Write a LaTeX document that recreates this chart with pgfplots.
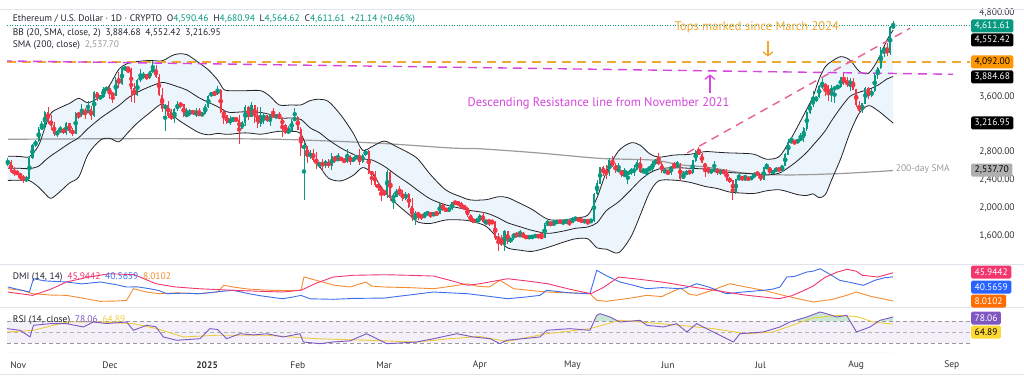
\documentclass[border=0pt]{standalone}
\usepackage{pgfplots}
\pgfplotsset{compat=1.18}
\usepackage{pgfplotstable}
\usetikzlibrary{arrows.meta}
\usepackage{fontspec}
\setmainfont{PT Sans}

\definecolor{tvgreen}{RGB}{8,153,129}
\definecolor{tvred}{RGB}{242,54,69}
\definecolor{bbline}{RGB}{35,35,40}
\definecolor{bbfill}{RGB}{236,244,252}
\definecolor{smagray}{RGB}{155,155,155}
\definecolor{toporange}{RGB}{240,168,48}
\definecolor{resmag}{RGB}{214,70,222}
\definecolor{ascpink}{RGB}{232,96,146}
\definecolor{adxred}{RGB}{242,54,110}
\definecolor{diblue}{RGB}{60,110,240}
\definecolor{diorange}{RGB}{245,140,50}
\definecolor{rsipurple}{RGB}{126,87,194}
\definecolor{rsiyellow}{RGB}{238,205,60}
\definecolor{lav}{RGB}{243,240,250}
\definecolor{obgreen}{RGB}{200,232,214}
\definecolor{txt}{RGB}{35,38,48}
\definecolor{tickcol}{RGB}{50,50,55}
\definecolor{sep}{RGB}{224,227,235}
\definecolor{tagorange}{RGB}{255,152,0}
\definecolor{taggray}{RGB}{175,175,175}
\definecolor{tagblue}{RGB}{41,98,255}
\definecolor{tagdiorange}{RGB}{255,109,0}
\definecolor{tagyellow}{RGB}{253,216,53}

\pgfplotstableread{
d o h l c
-2 2638 2722 2600 2659
-1 2659 2690 2500 2518
0 2518 2585 2460 2512
1 2512 2540 2475 2490
2 2490 2495 2400 2458
3 2458 2480 2360 2398
4 2398 2460 2380 2421
5 2421 2740 2420 2720
6 2720 2915 2700 2895
7 2895 2970 2880 2961
8 2961 3160 2950 3125
9 3125 3250 3120 3184
10 3184 3390 3130 3370
11 3370 3445 3210 3245
12 3245 3330 3120 3187
13 3187 3240 3030 3059
14 3059 3120 3020 3092
15 3092 3180 3080 3133
16 3133 3145 3060 3077
17 3077 3230 3050 3208
18 3208 3220 3080 3107
19 3107 3150 3030 3071
20 3071 3380 3060 3356
21 3356 3375 3270 3333
22 3333 3490 3300 3397
23 3397 3440 3280 3362
24 3362 3540 3360 3415
25 3415 3460 3260 3326
26 3326 3680 3300 3654
27 3654 3660 3540 3582
28 3582 3620 3550 3594
29 3594 3730 3580 3705
30 3705 3740 3680 3710
31 3710 3755 3560 3640
32 3640 3660 3500 3615
33 3615 3885 3600 3838
34 3838 3950 3720 3785
35 3785 4015 3770 4002
36 4002 4030 3970 4004
37 4004 4010 3930 3995
38 3995 4010 3520 3710
39 3710 3790 3510 3628
40 3628 3845 3600 3835
41 3835 3990 3810 3880
42 3880 3950 3850 3908
43 3908 3920 3830 3872
44 3872 3970 3850 3960
45 3960 4107 3930 3987
46 3987 4050 3860 3880
47 3880 3915 3600 3623
48 3623 3720 3370 3420
49 3420 3490 3100 3478
50 3478 3530 3290 3330
51 3330 3420 3260 3282
52 3282 3430 3220 3420
53 3420 3530 3390 3490
54 3490 3520 3430 3481
55 3481 3490 3310 3330
56 3330 3440 3310 3333
57 3333 3420 3320 3400
58 3400 3410 3340 3350
59 3350 3430 3310 3360
60 3360 3430 3320 3333
61 3333 3365 3320 3353
62 3353 3490 3350 3452
63 3452 3620 3440 3605
64 3605 3670 3590 3658
65 3658 3660 3610 3636
66 3636 3745 3620 3685
67 3685 3700 3360 3382
68 3382 3415 3210 3327
69 3327 3340 3200 3220
70 3220 3320 3190 3268
71 3268 3300 3230 3283
72 3283 3300 3230 3265
73 3265 3330 2920 3138
74 3138 3250 3130 3228
75 3228 3470 3180 3450
76 3450 3460 3260 3308
77 3308 3520 3300 3475
78 3475 3480 3220 3305
79 3305 3450 3150 3214
80 3214 3450 3160 3280
81 3280 3360 3200 3330
82 3330 3340 3230 3245
83 3245 3350 3180 3340
84 3340 3430 3300 3310
85 3310 3350 3280 3320
86 3320 3370 3280 3290
87 3290 3300 3020 3180
88 3180 3210 3060 3080
89 3080 3180 3070 3110
90 3110 3280 3100 3250
91 3250 3440 3250 3300
92 3300 3320 3120 3125
93 3125 3160 2750 2870
94 2870 2930 2120 2880
95 2880 2890 2650 2730
96 2730 2830 2700 2790
97 2790 2850 2660 2690
98 2690 2800 2560 2630
99 2630 2660 2580 2635
100 2635 2700 2550 2630
101 2630 2690 2580 2660
102 2660 2700 2570 2600
103 2600 2790 2550 2740
104 2740 2750 2640 2680
105 2680 2790 2670 2720
106 2720 2730 2680 2690
107 2690 2720 2650 2660
108 2660 2850 2640 2740
109 2740 2760 2620 2670
110 2670 2730 2660 2720
111 2720 2760 2700 2740
112 2740 2845 2620 2660
113 2660 2780 2650 2760
114 2760 2840 2740 2820
115 2820 2830 2490 2510
116 2510 2530 2330 2490
117 2490 2530 2300 2330
118 2330 2380 2250 2300
119 2300 2310 2100 2240
120 2240 2250 2170 2220
121 2220 2550 2150 2520
122 2520 2530 2100 2150
123 2150 2220 1990 2170
124 2170 2280 2160 2240
125 2240 2320 2180 2200
126 2200 2260 2100 2140
127 2140 2230 2120 2200
128 2200 2210 2000 2020
129 2020 2150 1810 1860
130 1860 1960 1760 1920
131 1920 1950 1830 1910
132 1910 1920 1830 1860
133 1860 1940 1860 1910
134 1910 1950 1900 1940
135 1940 1940 1860 1890
136 1890 1950 1880 1930
137 1930 1940 1890 1925
138 1925 2070 1920 2050
139 2050 2070 1960 1980
140 1980 2000 1950 1970
141 1970 2000 1960 1985
142 1985 2090 1970 2080
143 2080 2100 2060 2070
144 2070 2100 2030 2065
145 2065 2090 1990 2010
146 2010 2040 1990 2000
147 2000 2010 1870 1900
148 1900 1910 1800 1830
149 1830 1850 1780 1810
150 1810 1860 1780 1820
151 1820 1920 1800 1900
152 1900 1950 1780 1800
153 1800 1830 1760 1815
154 1815 1830 1750 1810
155 1810 1820 1770 1800
156 1800 1810 1540 1580
157 1580 1640 1390 1550
158 1550 1620 1460 1470
159 1470 1690 1390 1670
160 1670 1670 1480 1520
161 1520 1580 1500 1570
162 1570 1650 1540 1640
163 1640 1660 1570 1600
164 1600 1690 1590 1620
165 1620 1660 1580 1590
166 1590 1620 1550 1580
167 1580 1600 1570 1585
168 1585 1600 1570 1590
169 1590 1620 1580 1610
170 1610 1620 1570 1590
171 1590 1660 1570 1580
172 1580 1780 1570 1760
173 1760 1830 1750 1790
174 1790 1800 1740 1770
175 1770 1820 1760 1780
176 1780 1830 1780 1820
177 1820 1830 1780 1790
178 1790 1830 1760 1800
179 1800 1840 1790 1805
180 1805 1830 1740 1790
181 1790 1870 1790 1840
182 1840 1870 1830 1845
183 1845 1850 1820 1830
184 1830 1840 1800 1810
185 1810 1830 1790 1820
186 1820 1830 1760 1810
187 1810 1850 1790 1812
188 1812 2210 1800 2200
189 2200 2400 2190 2350
190 2350 2590 2350 2580
191 2580 2600 2460 2510
192 2510 2620 2420 2500
193 2500 2720 2460 2680
194 2680 2740 2590 2610
195 2610 2640 2500 2540
196 2540 2640 2530 2545
197 2545 2550 2450 2470
198 2470 2580 2460 2480
199 2480 2530 2340 2520
200 2520 2570 2480 2525
201 2525 2620 2460 2550
202 2550 2690 2540 2660
203 2660 2730 2500 2520
204 2520 2570 2510 2530
205 2530 2560 2460 2550
206 2550 2600 2540 2560
207 2560 2680 2530 2660
208 2660 2700 2620 2680
209 2680 2790 2620 2630
210 2630 2660 2500 2530
211 2530 2550 2500 2532
212 2532 2540 2470 2510
213 2510 2610 2480 2600
214 2600 2660 2580 2590
215 2590 2680 2580 2610
216 2610 2650 2390 2420
217 2420 2530 2410 2480
218 2480 2540 2470 2530
219 2530 2550 2480 2510
220 2510 2690 2490 2680
221 2680 2830 2660 2820
222 2820 2880 2760 2770
223 2770 2790 2640 2645
224 2645 2650 2440 2580
225 2580 2590 2490 2530
226 2530 2560 2490 2540
227 2540 2680 2530 2550
228 2550 2580 2480 2510
229 2510 2560 2480 2530
230 2530 2540 2490 2520
231 2520 2560 2390 2410
232 2410 2440 2360 2400
233 2400 2400 2110 2230
234 2230 2420 2200 2410
235 2410 2500 2400 2440
236 2440 2460 2390 2420
237 2420 2480 2410 2425
238 2425 2450 2390 2420
239 2420 2450 2410 2440
240 2440 2510 2430 2500
241 2500 2520 2470 2490
242 2490 2490 2390 2410
243 2410 2590 2400 2580
244 2580 2640 2570 2590
245 2590 2590 2480 2510
246 2510 2530 2500 2520
247 2520 2590 2510 2570
248 2570 2590 2520 2540
249 2540 2620 2520 2610
250 2610 2790 2600 2770
251 2770 2990 2760 2950
252 2950 3020 2940 2960
253 2960 2970 2910 2940
254 2940 2990 2930 2970
255 2970 3080 2960 3010
256 3010 3160 2940 3140
257 3140 3390 3110 3370
258 3370 3520 3350 3480
259 3480 3680 3450 3550
260 3550 3600 3520 3590
261 3590 3770 3580 3750
262 3750 3860 3700 3760
263 3760 3790 3600 3740
264 3740 3760 3530 3620
265 3620 3760 3520 3710
266 3710 3740 3510 3720
267 3720 3770 3710 3740
268 3740 3880 3720 3870
269 3870 3940 3760 3800
270 3800 3880 3730 3790
271 3790 3860 3680 3810
272 3810 3870 3690 3700
273 3700 3710 3450 3480
274 3480 3530 3360 3390
275 3390 3510 3360 3500
276 3500 3740 3490 3720
277 3720 3730 3560 3610
278 3610 3700 3590 3680
279 3680 3920 3670 3910
280 3910 4020 3850 4010
281 4010 4310 4000 4260
282 4260 4320 4160 4270
283 4270 4370 4180 4220
284 4220 4610 4200 4590.46
285 4590.46 4680.94 4564.62 4611.61
}\candles

\pgfplotstableread{
d u m lo
-2 2744 2570 2396
2 2740 2570 2400
5 2737 2565 2393
8 2900 2600 2300
10 3150 2680 2210
12 3360 2750 2140
15 3440 2840 2240
18 3500 2930 2360
21 3573 3010 2447
24 3510 3140 2770
28 3600 3287 2974
31 3760 3380 3000
34 3990 3470 2950
37 4075 3580 3085
40 4100 3660 3220
44 4115 3740 3365
48 4110 3800 3490
51 4180 3770 3360
53 4208 3740 3272
56 4200 3692 3184
60 4080 3580 3080
63 3980 3515 3050
66 3836 3453 3070
68 3700 3400 3060
70 3682 3370 3058
75 3682 3380 3078
80 3682 3370 3058
83 3600 3340 3080
86 3478 3290 3100
90 3478 3290 3100
93 3478 3270 3060
96 3540 3150 2760
99 3559 3080 2600
102 3525 2976 2427
106 3330 2860 2390
110 3070 2770 2470
113 2830 2705 2580
116 2880 2690 2500
120 2960 2600 2240
124 2880 2470 2060
128 2790 2350 1910
131 2700 2250 1800
135 2480 2130 1780
140 2259 2045 1830
145 2160 1995 1830
148 2116 1965 1814
153 2120 1930 1740
157 2163 1860 1557
160 2150 1790 1430
164 2069 1733 1397
168 1980 1680 1380
173 1840 1638 1436
178 1830 1670 1510
182 1860 1710 1560
186 1900 1730 1560
189 2150 1790 1430
192 2512 1962 1412
196 2820 2090 1360
200 2935 2263 1591
203 2900 2400 1900
206 2780 2500 2220
209 2730 2560 2390
214 2760 2580 2400
219 2770 2570 2370
224 2809 2560 2311
228 2800 2540 2280
232 2790 2510 2230
236 2785 2500 2215
240 2770 2490 2210
244 2700 2474 2248
248 2737 2500 2263
251 2928 2580 2232
254 3167 2680 2193
257 3420 2800 2180
259 3596 2900 2204
261 3850 3000 2150
263 4027 3110 2193
265 4100 3250 2400
268 4170 3440 2710
271 4120 3600 3080
274 3960 3660 3360
277 3932 3700 3468
280 4122 3760 3398
283 4409 3850 3291
285 4552.42 3884.68 3216.95
}\bb

\pgfplotstableread{
d s
-2 2986
40 2995
80 2990
100 2965
120 2925
142 2860
151 2850
170 2790
190 2712
207 2688
216 2620
225 2585
237 2500
251 2475
268 2495
285 2537.7
}\sma

\pgfplotstableread{
d v
-2 20
6 15.6
12 24
17 33.5
24 40
31 44.6
39 43.3
46 31.2
52 27
60 24.5
71 22.4
80 21
87 20.1
93 22.4
98 32
103.5 40.2
110 42.5
120 43.3
128 42.5
136 41.5
142 35
147 29.1
151 31.2
160 37.9
166 35
173 31.2
180 24
187 17.8
191 26
196 40.2
203 37
210 33.5
218 28
227 22.4
237 16
248 11.1
252 15
256 22
259 28
263 40
267 47
270 50.5
273 48
275 42.5
280 40.2
285 45.9442
}\adx

\pgfplotstableread{
d v
-2 26.8
3 22
5 20.1
6.3 37.9
10 35
17 33.5
22 31
28 33.5
33 30
36.5 26.8
40 27
44 24.5
47 22
49.5 17.8
55 18.5
60 17.8
65 20
71 22.4
76 18
80 15
87 11.1
90 13
93 15.6
96 11
103.5 10.3
110 11.5
120 12
128 16
136 20.1
141 19
147 17.8
154 14.3
160 11.1
165 13
170.5 15.6
172.7 22.4
180 19
186.7 17.8
188.9 49.2
192 42
196.4 33.5
200 30
205 24.5
210 26
216 24.5
218 26
221.3 31.2
225 27
231 17.8
236 20
242.9 22.4
246 24
248.3 26.8
250.5 40.2
253 41
257 46.9
259 48
261.3 51.3
264 45
267.7 35.7
271 33
275.3 29.1
277 32
279 35.7
282 39
285 40.5659
}\dip

\pgfplotstableread{
d v
-2 24.5
3 22
6 17.8
12 16
17 15.6
22 12
28 7.6
33 8
36.5 8.9
38.7 24.5
43 20
47.3 17.8
53 19
60 17.8
66 20.1
68 29.1
71 26.8
76 24
83 22.4
90 22
93 22.4
94 40.2
98 35.7
104 29
109 26.8
114 33.5
116 28
120 26.8
128 26
136 24.5
142 28
147 31.2
150 28
154 26.8
157.5 35.7
162 24.5
168 22
172.7 20.1
180 19
186.7 17.8
188.9 9
192 7.6
200 12
205 15.6
210 14
216 25.4
219 17
221.3 15.6
226 22
232 31.2
237 27
243 22.4
250 15
259 6.7
265 10
269.9 15.6
273 20.1
278 14
285 8.0102
}\dim

\pgfplotstableread{
d v
-2.2 56.5
2 53.5
5.2 41.2
6.3 62.7
11.7 65.7
17.1 65.7
22.5 59.6
25.7 68.8
30 66
36.5 68.8
38.7 53.5
43 62.7
46 60
48.4 41.2
52.7 35.1
60.3 38
63.5 56.5
66 55
68.9 38
73.3 47.2
77.5 45
82 47
87.3 41.2
92.7 47.2
93.8 31.9
99.2 28.8
103.5 32
108.9 34
114.3 47.2
117.6 38
120.8 28.8
130.5 31.9
136 38
143.5 47.2
148.9 41.2
154.3 38
157.5 28.8
159.7 35.1
170.5 41.2
172.7 53.5
180.2 56.5
186.7 53.5
188.9 81.1
190 84.1
193.2 78
196.4 68.8
203 71.9
205.1 62.7
210.5 59.6
214.8 65.7
218.1 50.4
221.3 65.7
226.7 50.4
233.2 31.9
235.3 47.2
242.9 50.4
248.3 59.6
251.5 68.8
257 78
261.3 87.2
263.4 84.1
266.7 78
269.9 81.1
273.1 50.4
277.5 59.6
280.7 71.9
285 78.06
}\rsi

\pgfplotstableread{
d v
-2.2 50.4
6.3 53.5
17.1 68.8
27.9 68.8
38.7 65.7
46.3 56.5
54.9 41.2
65.7 44.3
82 44.3
98.1 38
114.3 35.1
130.5 31.9
141.3 38
151 42
159.7 33
172.7 47.2
186.7 56.5
196.4 71.9
203 68.8
215.9 62.7
226.7 56.5
237.5 47.2
246.1 50.4
253.7 65.7
259.1 76.2
266.7 81.1
273 79
278.5 68.8
285 64.89
}\rsima

\pgfplotsset{
  tvpanel/.style={
    scale only axis, width=963pt,
    xmin=-2.27, xmax=309.9,
    axis line style={draw=none},
    major tick length=0pt, minor tick num=0,
    tick label style={font=\fontsize{9.5}{11}\selectfont, text=tickcol},
  },
  candle/.style 2 args={color=#2, only marks, mark=none,
    error bars/.cd, y dir=both, y explicit, error mark=none,
    error bar style={line width=#1, draw=#2, solid}},
}

\begin{document}
\begin{tikzpicture}
\path[use as bounding box, fill=white] (0pt,0pt) rectangle (1024pt,378pt);

% price panel
\begin{axis}[tvpanel, at={(7pt,114pt)}, anchor=south west, height=256pt,
  ymin=1199, ymax=4867,
  xtick=\empty,
  ytick={1600,2000,2400,2800,3600,4800},
  yticklabels={{1,600.00},{2,000.00},{2,400.00},{2,800.00},{3,600.00},{4,800.00}},
  yticklabel pos=right,
  yticklabel style={anchor=center, xshift=27pt},
]
\addplot[fill=bbfill, draw=none, smooth] table[x=d, y=u] {\bb} \closedcycle;
\addplot[fill=white, draw=none, smooth] table[x=d, y=lo] {\bb} \closedcycle;
\addplot[smagray, line width=1.2pt, smooth] table[x=d, y=s] {\sma};
\addplot[bbline, line width=0.8pt, smooth] table[x=d, y=u] {\bb};
\addplot[bbline, line width=0.8pt, smooth] table[x=d, y=m] {\bb};
\addplot[bbline, line width=0.8pt, smooth] table[x=d, y=lo] {\bb};
% resistance / tops lines
\addplot[toporange, line width=1.4pt, dash pattern=on 9pt off 6pt] coordinates {(-2.27,4092) (309.9,4092)};
\addplot[resmag, line width=1.4pt, dash pattern=on 9pt off 6pt, dash phase=4pt] coordinates {(-2.27,4108) (304.4,3917)};
\addplot[ascpink, line width=1.4pt, dash pattern=on 8pt off 6pt] coordinates {(218.2,2790) (290.4,4576)};
% candles: candles of the other colour are moved far below the axis (clipped)
\addplot[candle={0.8pt}{tvgreen}] table[x=d, y expr={(\thisrow{c}>=\thisrow{o})*((\thisrow{h}+\thisrow{l})/2+9000)-9000}, y error expr={(\thisrow{h}-\thisrow{l})/2}] {\candles};
\addplot[candle={0.8pt}{tvred}] table[x=d, y expr={(\thisrow{c}<\thisrow{o})*((\thisrow{h}+\thisrow{l})/2+9000)-9000}, y error expr={(\thisrow{h}-\thisrow{l})/2}] {\candles};
\addplot[candle={2.1pt}{tvgreen}] table[x=d, y expr={(\thisrow{c}>=\thisrow{o})*((\thisrow{o}+\thisrow{c})/2+9000)-9000}, y error expr={abs(\thisrow{c}-\thisrow{o})/2+4}] {\candles};
\addplot[candle={2.1pt}{tvred}] table[x=d, y expr={(\thisrow{c}<\thisrow{o})*((\thisrow{o}+\thisrow{c})/2+9000)-9000}, y error expr={abs(\thisrow{c}-\thisrow{o})/2+4}] {\candles};
% last price line
\addplot[tvgreen, line width=0.8pt, dash pattern=on 0.8pt off 1.8pt] coordinates {(-2.27,4611.61) (309.9,4611.61)};
% annotations
\node[text=toporange, font=\fontsize{12.5}{14}\selectfont] at (axis cs:240.8,4585) {Tops marked since March 2024};
\draw[toporange, line width=1.3pt, -{Straight Barb[length=4pt,width=10pt]}] (axis cs:244.4,4390) -- (axis cs:244.4,4170);
\node[text=resmag, font=\fontsize{12.5}{14}\selectfont] at (axis cs:189.5,3500) {Descending Resistance line from November 2021};
\draw[resmag, line width=1.3pt, -{Straight Barb[length=4pt,width=10pt]}] (axis cs:225.6,3650) -- (axis cs:225.6,3915);
\node[text=smagray, anchor=west, inner sep=0pt, font=\fontsize{9.5}{11}\selectfont] at (axis cs:285.8,2553) {200-day SMA};
\end{axis}

% DMI panel
\begin{axis}[tvpanel, at={(7pt,71pt)}, anchor=south west, height=42pt,
  ymin=0, ymax=56.3, xtick=\empty, ytick=\empty]
\addplot[diorange, line width=0.9pt] table[x=d, y=v] {\dim};
\addplot[diblue, line width=0.9pt] table[x=d, y=v] {\dip};
\addplot[adxred, line width=0.9pt] table[x=d, y=v] {\adx};
\end{axis}

% RSI panel
\begin{axis}[tvpanel, at={(7pt,26pt)}, anchor=south west, height=45pt,
  ymin=13.5, ymax=96.4, ytick=\empty,
  xtick={1.4,31.1,62.6,92,120,151,181,212,242,273,304},
  xticklabels={Nov,Dec,\textbf{2025},Feb,Mar,Apr,May,Jun,Jul,Aug,Sep},
  xticklabel style={anchor=center, yshift=-13pt},
]
\addplot[fill=obgreen, draw=none] table[x=d, y=v] {\rsi} \closedcycle;
\addplot[fill=lav, draw=none] coordinates {(-2.27,70) (309.9,70)} \closedcycle;
\addplot[fill=white, draw=none] coordinates {(-2.27,30) (309.9,30)} \closedcycle;
\addplot[gray!80, line width=0.7pt, dash pattern=on 4pt off 3pt] coordinates {(-2.27,70) (309.9,70)};
\addplot[gray!60, line width=0.6pt, dash pattern=on 4pt off 3pt] coordinates {(-2.27,50) (309.9,50)};
\addplot[gray!80, line width=0.7pt, dash pattern=on 4pt off 3pt] coordinates {(-2.27,30) (309.9,30)};
\addplot[rsiyellow, line width=0.9pt] table[x=d, y=v] {\rsima};
\addplot[rsipurple, line width=0.9pt] table[x=d, y=v] {\rsi};
\end{axis}

% separators
\draw[sep, line width=0.6pt] (0pt,369pt) -- (1024pt,369pt);
\draw[sep, line width=0.8pt] (0pt,113.5pt) -- (1024pt,113.5pt);
\draw[sep, line width=0.8pt] (0pt,71pt) -- (1024pt,71pt);
\draw[sep, line width=0.8pt] (0pt,4pt) -- (1024pt,4pt);

% legends
\tikzset{lg/.style={anchor=west, inner sep=0pt, text=txt, font=\fontsize{9.5}{11}\selectfont}}
\node[lg] at (12.7pt,359pt) {Ethereum / U.S. Dollar · 1D · CRYPTO\enspace O\textcolor{tvgreen}{4,590.46}\enspace H\textcolor{tvgreen}{4,680.94}\enspace L\textcolor{tvgreen}{4,564.62}\enspace C\textcolor{tvgreen}{4,611.61}\enspace\textcolor{tvgreen}{+21.14 (+0.46\%)}};
\node[lg] at (12.7pt,345pt) {BB (20, SMA, close, 2)\enspace 3,884.68\enspace 4,552.42\enspace 3,216.95};
\node[lg] at (12.7pt,333pt) {SMA (200, close)\enspace\textcolor{smagray}{2,537.70}};
\node[lg] at (12.7pt,101pt) {DMI (14, 14)\enspace\textcolor{adxred}{45.9442}\enspace\textcolor{diblue}{40.5659}\enspace\textcolor{diorange}{8.0102}};
\node[lg] at (12.7pt,58pt) {RSI (14, close)\enspace\textcolor{rsipurple}{78.06}\enspace\textcolor{rsiyellow}{64.89}};

% right-hand value tags
\tikzset{tag/.style={anchor=west, inner xsep=3.5pt, inner ysep=0pt, minimum height=13pt, rounded corners=1.5pt, font=\fontsize{9.5}{11}\selectfont}}
\node[tag, fill=tvgreen, text=white] at (971pt,352pt) {4,611.61};
\node[tag, fill=black, text=white] at (971pt,338pt) {4,552.42};
\node[tag, fill=tagorange, text=black] at (971pt,316pt) {4,092.00};
\node[tag, fill=black, text=white] at (971pt,301pt) {3,884.68};
\node[tag, fill=black, text=white] at (971pt,255pt) {3,216.95};
\node[tag, fill=taggray, text=black] at (971pt,208pt) {2,537.70};
\node[tag, fill=adxred, text=white] at (971pt,106pt) {45.9442};
\node[tag, fill=tagblue, text=white] at (971pt,91pt) {40.5659};
\node[tag, fill=tagdiorange, text=white] at (971pt,77pt) {8.0102};
\node[tag, fill=rsipurple, text=white] at (971pt,60pt) {78.06};
\node[tag, fill=tagyellow, text=black] at (971pt,46pt) {64.89};
\end{tikzpicture}
\end{document}
